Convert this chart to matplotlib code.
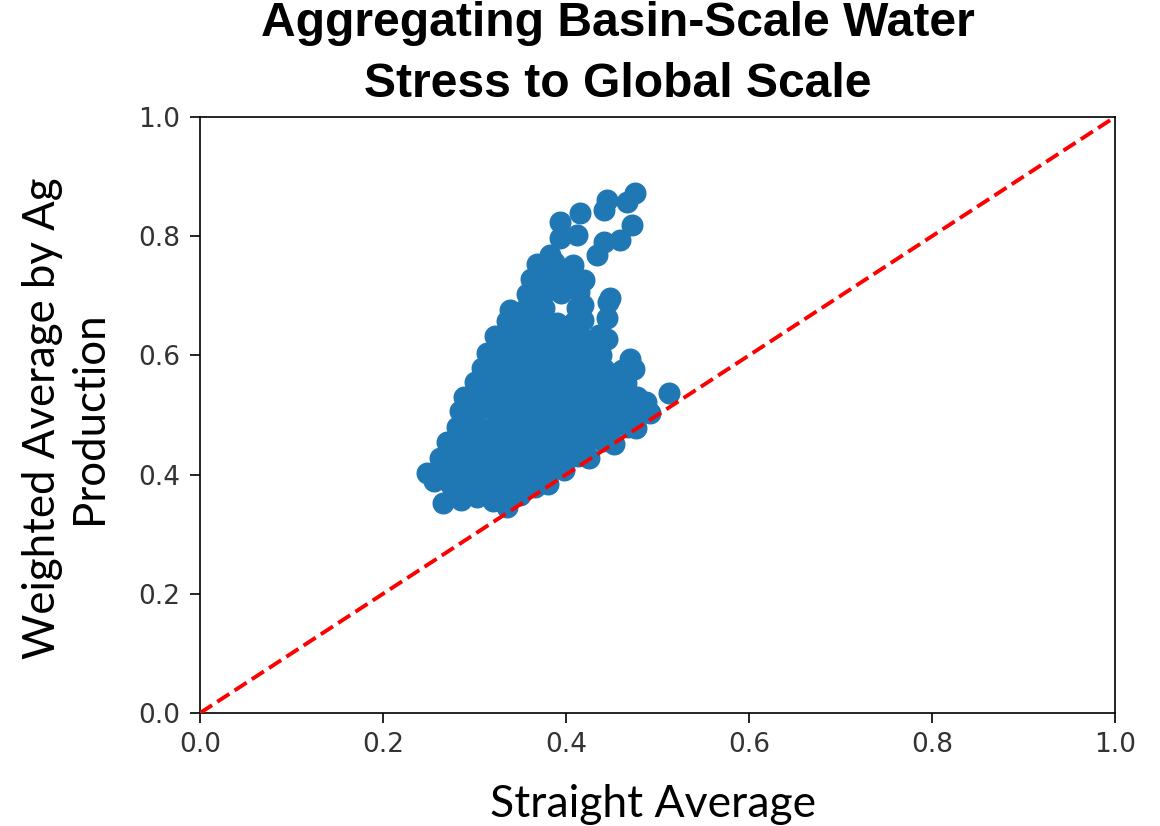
import numpy as np
import matplotlib
matplotlib.use("Agg")
import matplotlib.pyplot as plt

# basin points, row by row from the bottom up
straight_avg = [
    0.266, 0.285, 0.303, 0.320, 0.335, 0.350,
    0.256, 0.274, 0.293, 0.312, 0.331, 0.350, 0.366, 0.380,
    0.248, 0.266, 0.285, 0.304, 0.323, 0.342, 0.361, 0.380, 0.398,
    0.262, 0.280, 0.299, 0.318, 0.337, 0.356, 0.375, 0.394, 0.413, 0.425,
    0.270, 0.289, 0.308, 0.327, 0.346, 0.365, 0.384, 0.403, 0.422, 0.440, 0.452,
    0.281, 0.299, 0.318, 0.337, 0.356, 0.375, 0.394, 0.413, 0.432, 0.451, 0.468, 0.477,
    0.284, 0.303, 0.322, 0.341, 0.360, 0.379, 0.398, 0.417, 0.436, 0.455, 0.474, 0.492,
    0.288, 0.307, 0.326, 0.345, 0.364, 0.383, 0.402, 0.421, 0.440, 0.459, 0.478, 0.487, 0.513,
    0.300, 0.318, 0.337, 0.356, 0.375, 0.394, 0.413, 0.432, 0.451, 0.466,
    0.308, 0.328, 0.347, 0.366, 0.385, 0.404, 0.423, 0.442, 0.461, 0.474,
    0.314, 0.333, 0.352, 0.371, 0.390, 0.409, 0.428, 0.438, 0.470,
    0.322, 0.341, 0.360, 0.379, 0.398, 0.417, 0.436, 0.445,
    0.335, 0.352, 0.371, 0.390, 0.409, 0.419, 0.445,
    0.339, 0.357, 0.376, 0.412, 0.419, 0.446,
    0.357, 0.376, 0.395, 0.414, 0.448,
    0.362, 0.381, 0.400, 0.420,
    0.368, 0.387, 0.408,
    0.383, 0.434, 0.393, 0.393, 0.412, 0.415, 0.441, 0.459, 0.472, 0.441, 0.445, 0.467, 0.475,
]
weighted_avg = [
    0.352, 0.358, 0.362, 0.356, 0.346, 0.365,
    0.390, 0.382, 0.378, 0.380, 0.377, 0.381, 0.379, 0.384,
    0.403, 0.405, 0.404, 0.406, 0.405, 0.404, 0.406, 0.405, 0.407,
    0.428, 0.431, 0.430, 0.429, 0.431, 0.430, 0.432, 0.429, 0.431, 0.428,
    0.455, 0.456, 0.454, 0.457, 0.455, 0.456, 0.454, 0.456, 0.455, 0.457, 0.452,
    0.480, 0.481, 0.479, 0.480, 0.482, 0.480, 0.479, 0.481, 0.480, 0.482, 0.480, 0.478,
    0.507, 0.505, 0.506, 0.504, 0.506, 0.505, 0.507, 0.505, 0.504, 0.506, 0.505, 0.503,
    0.530, 0.531, 0.529, 0.530, 0.532, 0.530, 0.529, 0.531, 0.530, 0.528, 0.531, 0.522, 0.537,
    0.556, 0.555, 0.557, 0.554, 0.556, 0.555, 0.557, 0.554, 0.556, 0.553,
    0.579, 0.581, 0.580, 0.582, 0.579, 0.581, 0.580, 0.578, 0.576, 0.577,
    0.604, 0.606, 0.605, 0.607, 0.604, 0.606, 0.605, 0.600, 0.594,
    0.632, 0.630, 0.631, 0.629, 0.632, 0.630, 0.634, 0.628,
    0.657, 0.655, 0.656, 0.654, 0.656, 0.660, 0.662,
    0.676, 0.681, 0.680, 0.680, 0.684, 0.690,
    0.703, 0.705, 0.704, 0.706, 0.696,
    0.728, 0.730, 0.731, 0.727,
    0.753, 0.757, 0.752,
    0.768, 0.768, 0.797, 0.824, 0.802, 0.839, 0.790, 0.794, 0.819, 0.844, 0.861, 0.857, 0.872,
]

one_to_one = [0.0, 1.0]
ticks = [0.0, 0.2, 0.4, 0.6, 0.8, 1.0]

label_font = "Lato"
tick_size = 19

fig = plt.figure(figsize=(11.6, 8.26), dpi=100)
ax = fig.add_axes([200 / 1160, 113 / 826, 915 / 1160, 596 / 826])

ax.scatter(straight_avg, weighted_avg, s=220, color="#1f77b4", zorder=2)
ax.plot(one_to_one, one_to_one, "r--", linewidth=2.8, zorder=3)

ax.set_xlim(0, 1)
ax.set_ylim(0, 1)
ax.set_xticks(ticks)
ax.set_yticks(ticks)
ax.tick_params(axis="both", which="both", labelsize=tick_size, length=7, width=1.2,
               pad=7, labelcolor="#333333")
for spine in ax.spines.values():
    spine.set_linewidth(1.2)

fig.text(618 / 1160, 0.999, "Aggregating Basin-Scale Water\nStress to Global Scale",
         ha="center", va="top", fontsize=34.6, fontweight="bold",
         family="Liberation Sans", linespacing=1.45)

fig.text(653 / 1160, 9 / 826, "Straight Average", ha="center", va="baseline",
         fontsize=32, family=label_font)
fig.text(66 / 1160, 1 - 418 / 826, "Weighted Average by Ag\nProduction", ha="center",
         va="center", rotation=90, fontsize=31.5, family=label_font)

plt.savefig("out.png", dpi=100)
plt.close()
